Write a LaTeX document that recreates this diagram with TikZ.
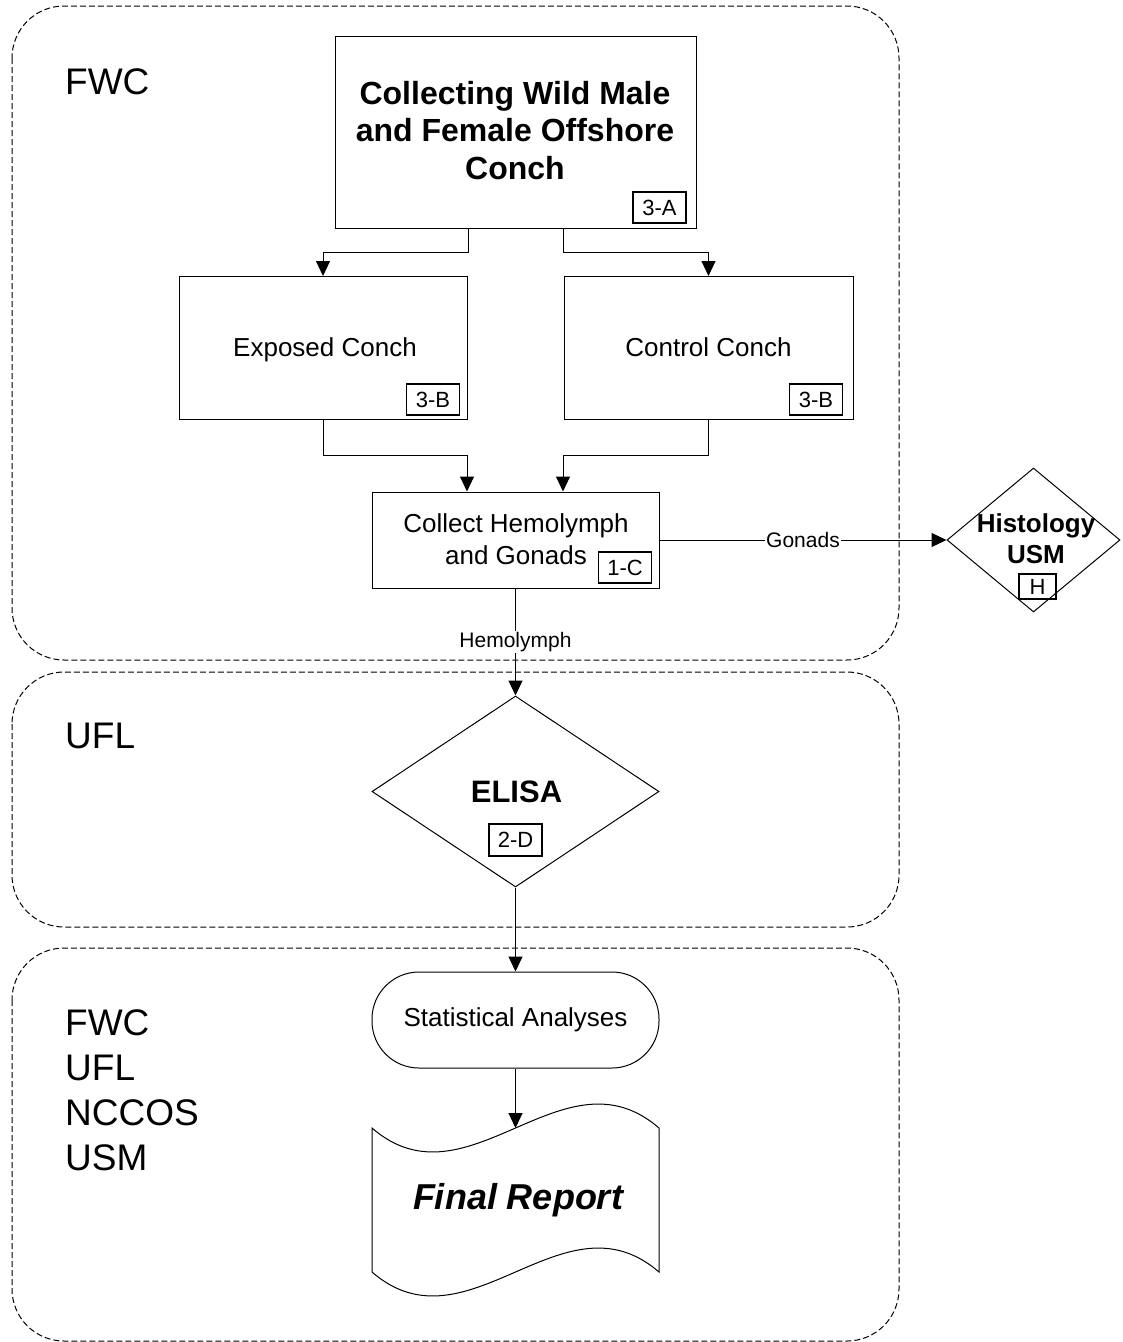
\documentclass[tikz,border=0pt]{standalone}
\usepackage{fontspec}
\setmainfont{Liberation Sans}
\usetikzlibrary{arrows.meta,shapes.geometric}
\begin{document}
\begin{tikzpicture}[x=1pt,y=-1pt,
  region/.style={draw, dash pattern=on 6pt off 3pt, line width=1pt, rounded corners=52pt},
  procbox/.style={draw, line width=1pt, inner sep=0pt, align=center, font=\fontsize{26}{32}\selectfont},
  tagbox/.style={draw, line width=1.3pt, inner sep=0pt, minimum width=53pt, minimum height=31pt, font=\fontsize{22}{26}\selectfont},
  dia/.style={draw, diamond, line width=1pt, inner sep=0pt},
  conn/.style={line width=1pt, -{Triangle[length=15pt,width=14pt]}},
  plainline/.style={line width=1pt},
  lbl/.style={fill=white, inner sep=1pt, font=\fontsize{21}{24}\selectfont},
  orglbl/.style={anchor=west, inner sep=0pt, align=left, font=\fontsize{37}{45}\selectfont}
]
\useasboundingbox (0,0) rectangle (1123,1342);

% regions
\draw[region] (12,6) rectangle (899,660);
\draw[region] (12,672) rectangle (899,927);
\draw[region] (12,948) rectangle (899,1341);

% organisation labels
\node[orglbl] (org1) at (65,82) {FWC};
\node[orglbl] (org2) at (65,736) {UFL};
\node[orglbl] (org3) at (65,1090) {FWC\\UFL\\NCCOS\\USM};

% top box
\node[procbox, minimum width=361pt, minimum height=192pt] (top) at (515.5,132) {};
\node[align=center, inner sep=0pt, font=\fontsize{32}{37.5}\selectfont\bfseries] (toptxt) at (515,130.5) {Collecting Wild Male\\and Female Offshore\\Conch};
\node[tagbox] (tagA) at (659.5,207.5) {3-A};

% exposed / control
\node[procbox, minimum width=288pt, minimum height=143pt] (exp) at (323,348) {};
\node[inner sep=0pt, font=\fontsize{26}{32}\selectfont] (exptxt) at (325,350) {Exposed Conch};
\node[tagbox] (tagB1) at (433,399.5) {3-B};

\node[procbox, minimum width=289pt, minimum height=143pt] (ctl) at (708.5,348) {};
\node[inner sep=0pt, font=\fontsize{26}{32}\selectfont] (ctltxt) at (708.5,347) {Control Conch};
\node[tagbox] (tagB2) at (816,399.5) {3-B};

% collect
\node[procbox, minimum width=287pt, minimum height=96pt] (col) at (515.5,540) {};
\node[align=center, inner sep=0pt, font=\fontsize{26}{32}\selectfont] (coltxt) at (516,539) {Collect Hemolymph\\and Gonads};
\node[tagbox] (tagC) at (625,567.5) {1-C};

% histology
\node[dia, minimum width=173pt, minimum height=144pt] (hist) at (1033.5,540) {};
\node[align=center, inner sep=0pt, font=\fontsize{26}{31}\selectfont\bfseries] (histtxt) at (1036,538.5) {Histology\\USM};
\node[tagbox, minimum width=37pt, minimum height=25pt] (tagH) at (1037.5,586.5) {H};

% ELISA
\node[dia, minimum width=287pt, minimum height=191pt] (eli) at (515.5,791.5) {};
\node[inner sep=0pt, font=\fontsize{31}{36}\selectfont\bfseries] (elitxt) at (516.5,792) {ELISA};
\node[tagbox, minimum height=32pt] (tagD) at (515.5,840) {2-D};

% statistical analyses
\node[procbox, minimum width=287pt, minimum height=96pt, rounded corners=47pt] (stat) at (515.5,1020) {Statistical Analyses};

% final report (document shape)
\draw[plainline] (372,1128) .. controls (467.7,1211) and (563.3,1045) .. (659,1128)
  -- (659,1272) .. controls (563.3,1189) and (467.7,1355) .. (372,1272) -- cycle;
\coordinate (reptop) at (515.5,1128);
\node[inner sep=0pt, font=\fontsize{36}{40}\selectfont\bfseries\itshape] (reptxt) at (518,1200) {Final Report};

% connectors
\draw[conn] ([xshift=-47.5pt]top.south) -- ++(0,24) -| (exp.north);
\draw[conn] ([xshift=47.5pt]top.south) -- ++(0,24) -| (ctl.north);
\draw[conn] (exp.south) -- ++(0,35) -| ([xshift=-48.5pt]col.north);
\draw[conn] (ctl.south) -- ++(0,35) -| ([xshift=47.5pt]col.north);
\draw[conn] (col.east) -- node[lbl] {Gonads} (hist.west);
\draw[conn] (col.south) -- node[lbl] {Hemolymph} (eli.north);
\draw[conn] (eli.south) -- (stat.north);
\draw[conn] (stat.south) -- (reptop);
\end{tikzpicture}
\end{document}
